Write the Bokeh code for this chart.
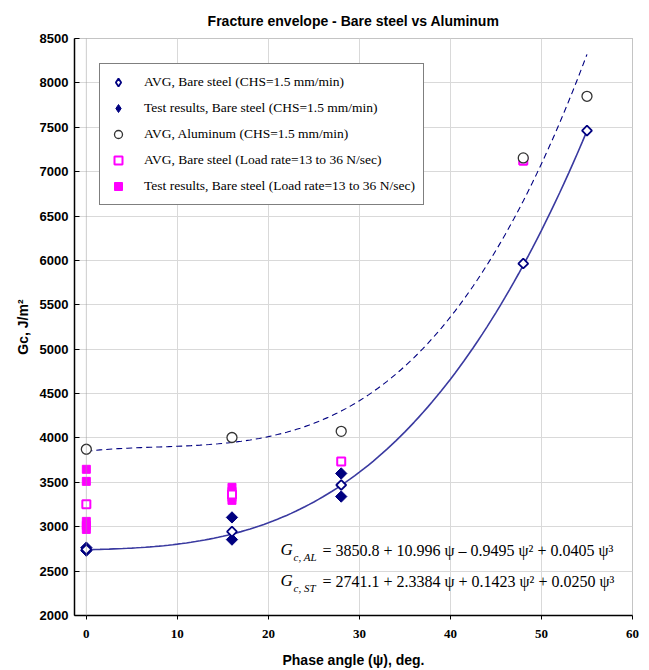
import numpy as np
from bokeh.plotting import figure
from bokeh.models import Legend, LegendItem, Label, Span, FixedTicker, Range1d
from bokeh.embed import file_html
from bokeh.resources import INLINE

# ---------------- data ----------------
avg_st_x = [0, 16, 28, 48, 55]
avg_st_y = [2744, 2945, 3470, 5965, 7462]

test_st_x = [0, 0, 16, 16, 28, 28]
test_st_y = [2730, 2765, 3105, 2855, 3600, 3340]

avg_al_x = [0, 16, 28, 48, 55]
avg_al_y = [3873, 4005, 4075, 7155, 7849]

avg_lr_x = [0, 16, 28, 48]
avg_lr_y = [3252, 3364, 3735, 7125]

test_lr_x = [0, 0, 0, 0, 0, 16, 16, 16, 16, 48]
test_lr_y = [3647, 3511, 3060, 3015, 2970, 3444, 3398, 3330, 3297, 7120]

# trendline coefficients shown in the chart (c0 + c1*psi + c2*psi^2 + c3*psi^3)
al_coef = [3850.8, 10.996, -0.9495, 0.0405]
st_coef = [2741.1, 2.3384, 0.1423, 0.0250]
fit_x = np.linspace(0, 55, 111)
al_fit = np.polynomial.polynomial.polyval(fit_x, al_coef)
st_fit = np.polynomial.polynomial.polyval(fit_x, st_coef)

x_ticks = [0, 10, 20, 30, 40, 50, 60]
y_ticks = list(range(2000, 8501, 500))

title_txt = "Fracture envelope - Bare steel vs Aluminum"
xlabel_txt = "Phase angle (\u03c8), deg."
ylabel_txt = "Gc, J/m\u00b2"
legend_labels = [
    "AVG, Bare steel (CHS=1.5 mm/min)",
    "Test results, Bare steel (CHS=1.5 mm/min)",
    "AVG, Aluminum (CHS=1.5 mm/min)",
    "AVG, Bare steel (Load rate=13 to 36 N/sec)",
    "Test results, Bare steel (Load rate=13 to 36 N/sec)",
]

# ---------------- figure ----------------
p = figure(width=641, height=670, output_backend="svg", toolbar_location=None,
           x_range=Range1d(-1.3, 60), y_range=Range1d(2000, 8500),
           title=title_txt)
p.min_border_left = 74
p.min_border_right = 9
p.min_border_top = 38
p.min_border_bottom = 54
p.background_fill_color = "white"
p.border_fill_color = "white"

p.title.align = "center"
p.title.text_font = "Liberation Sans"
p.title.text_font_size = "14px"
p.title.text_font_style = "bold"
p.title.text_color = "black"
p.title.offset = 0
p.title.standoff = 20

p.outline_line_color = "#888888"
p.outline_line_dash = "1 1"
p.outline_line_width = 1

# axes
p.xaxis.ticker = FixedTicker(ticks=x_ticks)
p.yaxis.ticker = FixedTicker(ticks=y_ticks)
p.xaxis.axis_label = xlabel_txt
p.yaxis.axis_label = ylabel_txt
for ax in (p.xaxis, p.yaxis):
    ax.axis_line_color = "black"
    ax.axis_line_width = 1.5
    ax.major_tick_line_color = "black"
    ax.minor_tick_line_color = None
    ax.axis_label_text_font = "Liberation Sans"
    ax.axis_label_text_font_style = "bold"
    ax.axis_label_text_font_size = "14px"
    ax.axis_label_text_color = "black"
    ax.major_label_text_color = "black"
    ax.major_label_text_font_style = "bold"
p.xaxis.major_label_text_font = "Liberation Serif"
p.xaxis.major_label_text_font_size = "13px"
p.xaxis.major_tick_out = 4
p.xaxis.major_tick_in = 0
p.xaxis.major_label_standoff = 10
p.xaxis.axis_label_standoff = 11
p.yaxis.major_label_text_font = "Liberation Sans"
p.yaxis.major_label_text_font_size = "13px"
p.yaxis.major_tick_out = 0
p.yaxis.major_tick_in = 5
p.yaxis.major_label_standoff = 6
p.yaxis.axis_label_standoff = 6

# grid
p.xgrid.ticker = FixedTicker(ticks=[10, 20, 30, 40, 50])
p.xgrid.grid_line_color = "#d9d9d9"
p.ygrid.grid_line_color = "#d9d9d9"
p.ygrid.ticker = FixedTicker(ticks=y_ticks)
p.add_layout(Span(location=0, dimension="height", line_color="#999999",
                  line_dash="1 1", line_width=1))

# trendlines
p.line(fit_x, al_fit, line_color="#000080", line_dash="6 4", line_width=1.1)
p.line(fit_x, st_fit, line_color="#3a3aa0", line_width=1.6)

# markers
diamond_angle = np.pi / 4
r_test_lr = p.scatter(test_lr_x, test_lr_y, marker="square", size=8,
                      fill_color="#ff00ff", line_color="#ff00ff")
r_avg_lr = p.scatter(avg_lr_x, avg_lr_y, marker="square", size=8,
                     fill_color="white", line_color="#ff00ff", line_width=2)
r_test_st = p.scatter(test_st_x, test_st_y, marker="square", size=8, angle=diamond_angle,
                      fill_color="#000080", line_color="#000080")
r_avg_al = p.scatter(avg_al_x, avg_al_y, marker="circle", size=10,
                     fill_color="white", line_color="#333333", line_width=1.3)
r_avg_st = p.scatter(avg_st_x, avg_st_y, marker="square", size=7, angle=diamond_angle,
                     fill_color="white", line_color="#000080", line_width=1.8)

# legend proxies (empty, only used to draw the diamond key glyphs)
k_avg_st = p.scatter([np.nan], [np.nan], marker="diamond", size=10,
                     fill_color="white", line_color="#000080", line_width=1.8)
k_test_st = p.scatter([np.nan], [np.nan], marker="diamond", size=12,
                      fill_color="#000080", line_color="#000080")

legend = Legend(items=[
    LegendItem(label=legend_labels[0], renderers=[k_avg_st]),
    LegendItem(label=legend_labels[1], renderers=[k_test_st]),
    LegendItem(label=legend_labels[2], renderers=[r_avg_al]),
    LegendItem(label=legend_labels[3], renderers=[r_avg_lr]),
    LegendItem(label=legend_labels[4], renderers=[r_test_lr]),
], location="top_left")
legend.margin = 25
legend.padding = 8
legend.spacing = 6
legend.label_standoff = 16
legend.glyph_width = 20
legend.label_height = 20
legend.glyph_height = 20
legend.label_text_font = "Liberation Serif"
legend.label_text_font_size = "13.5px"
legend.label_text_color = "black"
legend.border_line_color = "black"
legend.border_line_width = 1
legend.background_fill_color = "white"
legend.background_fill_alpha = 1
p.add_layout(legend, "center")

# equations (screen units relative to frame bottom-left)
eq_font = "Liberation Serif"
def add_eq(y, sub, rest):
    p.add_layout(Label(x=206, y=y, x_units="screen", y_units="screen", text="G",
                       text_font=eq_font, text_font_style="italic",
                       text_font_size="17px", text_color="black"))
    p.add_layout(Label(x=219, y=y - 4, x_units="screen", y_units="screen", text=sub,
                       text_font=eq_font, text_font_style="italic",
                       text_font_size="11px", text_color="black"))
    p.add_layout(Label(x=248, y=y, x_units="screen", y_units="screen", text=rest,
                       text_font=eq_font, text_font_size="16px", text_color="black"))

add_eq(57, "c, AL", "= 3850.8 + 10.996 \u03c8 \u2013 0.9495 \u03c8\u00b2 + 0.0405 \u03c8\u00b3")
add_eq(26, "c, ST", "= 2741.1 + 2.3384 \u03c8 + 0.1423 \u03c8\u00b2 + 0.0250 \u03c8\u00b3")

open("out.html", "w").write(file_html(p, INLINE))
